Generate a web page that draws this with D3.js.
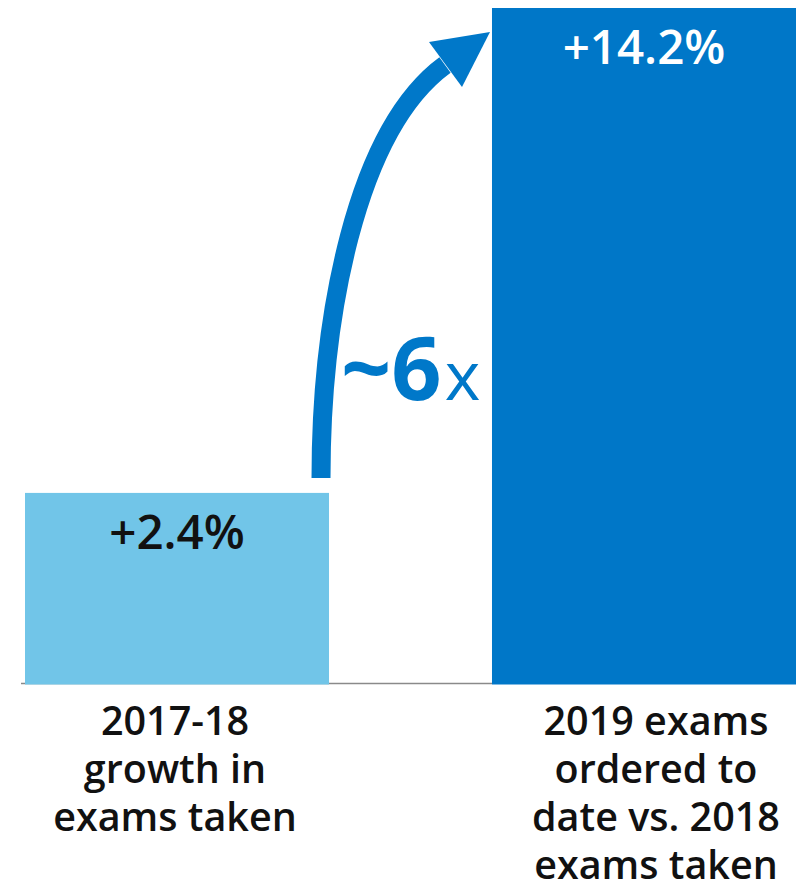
<!DOCTYPE html>
<html>
<head>
<meta charset="utf-8">
<script src="https://cdn.jsdelivr.net/npm/d3@7"></script>
<style>
  html, body { margin: 0; padding: 0; background: #fff; }
  svg { display: block; font-family: "Open Sans", "Noto Sans", sans-serif; }
</style>
</head>
<body>
<svg id="chart" width="805" height="884"></svg>
<script>
// Growth comparison: exams taken vs. exams ordered
const categories = ["2017-18 growth", "2019 vs. 2018"];
const values = [2.4, 14.2];
const valueLabels = ["+2.4%", "+14.2%"];
const categoryLines = [
  ["2017-18", "growth in", "exams taken"],
  ["2019 exams", "ordered to", "date vs. 2018", "exams taken"]
];
const barColors = ["#71c5e8", "#0077c8"];
const valueColors = ["#111111", "#ffffff"];
const multiplierText = ["~6", "x"];

const svg = d3.select("#chart");
const baseY = 684;

const x = d3.scaleBand()
  .domain(categories)
  .range([25, 796])
  .paddingInner(0.349)
  .paddingOuter(0);

// value axis starts below zero so the small bar keeps some height
const y = d3.scaleLinear()
  .domain([-2.25, 14.2])
  .range([baseY, 8]);

// baseline
svg.append("line")
  .attr("x1", 21).attr("x2", x(categories[1]))
  .attr("y1", baseY - 0.5).attr("y2", baseY - 0.5)
  .attr("stroke", "#8a8a8a").attr("stroke-width", 1.3);

// bars
svg.selectAll("rect.bar")
  .data(values)
  .join("rect")
  .attr("class", "bar")
  .attr("x", (d, i) => x(categories[i]))
  .attr("width", x.bandwidth())
  .attr("y", d => y(d))
  .attr("height", d => y.range()[0] + 0.5 - y(d))
  .attr("fill", (d, i) => barColors[i]);

// value labels inside the bars
svg.selectAll("text.value")
  .data(values)
  .join("text")
  .attr("class", "value")
  .attr("x", (d, i) => x(categories[i]) + x.bandwidth() / 2)
  .attr("y", d => y(d) + 56)
  .attr("text-anchor", "middle")
  .attr("font-size", 47.5)
  .attr("font-weight", 600)
  .attr("fill", (d, i) => valueColors[i])
  .text((d, i) => valueLabels[i]);

// category labels under the bars
const labelOffsets = [-2, 12];
categoryLines.forEach((lines, i) => {
  const t = svg.append("text")
    .attr("text-anchor", "middle")
    .attr("font-size", 39.5)
    .attr("font-weight", 600)
    .attr("fill", "#111");
  lines.forEach((line, j) => {
    t.append("tspan")
      .attr("x", x(categories[i]) + x.bandwidth() / 2 + labelOffsets[i])
      .attr("y", 735 + j * 48)
      .text(line);
  });
});

// curved arrow from the small bar to the large bar
const arrowColor = "#0078c9";
const x0 = x(categories[0]) + x.bandwidth();
const x1 = x(categories[1]);
const start = [x0 - 8, y(values[0]) - 15];
const end = [x1 - 47, y(values[1]) + 57];
const shaft = d3.path();
shaft.moveTo(start[0], start[1]);
shaft.bezierCurveTo(start[0], start[1] - 158, end[0] - 90, end[1] + 66, end[0], end[1]);
svg.append("path")
  .attr("d", shaft.toString())
  .attr("fill", "none")
  .attr("stroke", arrowColor)
  .attr("stroke-width", 19);

const head = d3.path();
head.moveTo(x1 - 2, y(values[1]) + 24);
head.lineTo(x1 - 63, y(values[1]) + 34);
head.lineTo(x1 - 30, y(values[1]) + 79);
head.closePath();
svg.append("path")
  .attr("d", head.toString())
  .attr("fill", arrowColor);

// multiplier annotation
const mult = svg.append("text")
  .attr("x", 341)
  .attr("y", 400)
  .attr("fill", arrowColor);
mult.append("tspan")
  .attr("font-size", 88)
  .attr("font-weight", 700)
  .text(multiplierText[0]);
mult.append("tspan")
  .attr("font-size", 68)
  .attr("font-weight", 400)
  .attr("dx", 3)
  .text(multiplierText[1]);
</script>
</body>
</html>
